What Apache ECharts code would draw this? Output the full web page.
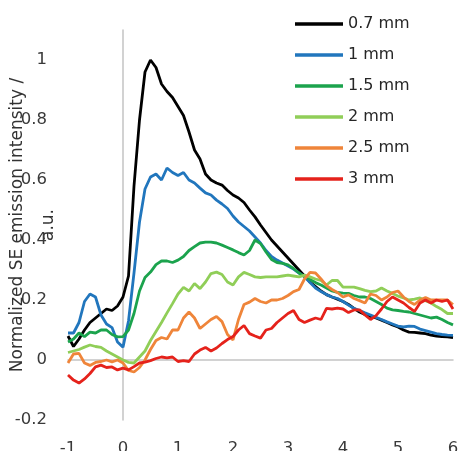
<!DOCTYPE html>
<html>
<head>
<meta charset="utf-8">
<script src="https://cdn.jsdelivr.net/npm/echarts@6/dist/echarts.min.js"></script>
<style>html,body{margin:0;padding:0;background:#fff}#c{width:460px;height:451px}</style>
</head>
<body>
<div id="c"></div>
<script>
const energies = [-1.0,-0.9,-0.8,-0.7,-0.6,-0.5,-0.4,-0.3,-0.2,-0.1,
  0.0,0.1,0.2,0.3,0.4,0.5,0.6,0.7,0.8,0.9,
  1.0,1.1,1.2,1.3,1.4,1.5,1.6,1.7,1.8,1.9,
  2.0,2.1,2.2,2.3,2.4,2.5,2.6,2.7,2.8,2.9,
  3.0,3.1,3.2,3.3,3.4,3.5,3.6,3.7,3.8,3.9,
  4.0,4.1,4.2,4.3,4.4,4.5,4.6,4.7,4.8,4.9,
  5.0,5.1,5.2,5.3,5.4,5.5,5.6,5.7,5.8,5.9,6.0];

const seriesNames = ['0.7 mm','1 mm','1.5 mm','2 mm','2.5 mm','3 mm'];
const seriesColors = ['#000000','#2176bd','#1ba34d','#90ce58','#ef853a','#e5221b'];

const s07 = [0.08,0.045,0.07,0.1,0.125,0.14,0.155,0.17,0.165,0.18,
  0.21,0.28,0.58,0.8,0.96,1.0,0.975,0.92,0.895,0.875,
  0.845,0.815,0.76,0.7,0.67,0.62,0.6,0.59,0.583,0.565,
  0.55,0.54,0.525,0.5,0.477,0.45,0.425,0.4,0.38,0.36,
  0.34,0.32,0.3,0.28,0.26,0.245,0.23,0.218,0.21,0.203,
  0.195,0.185,0.172,0.16,0.152,0.145,0.14,0.133,0.125,0.117,
  0.11,0.1,0.093,0.092,0.09,0.088,0.083,0.08,0.078,0.077,0.075];

const s1 = [0.09,0.09,0.125,0.195,0.22,0.21,0.15,0.12,0.108,0.06,
  0.043,0.13,0.29,0.46,0.57,0.61,0.62,0.6,0.64,0.625,
  0.615,0.625,0.6,0.59,0.573,0.557,0.55,0.533,0.52,0.505,
  0.48,0.46,0.445,0.43,0.41,0.39,0.365,0.345,0.333,0.323,
  0.313,0.303,0.29,0.278,0.258,0.24,0.228,0.218,0.21,0.205,
  0.195,0.183,0.172,0.165,0.157,0.15,0.142,0.135,0.127,0.12,
  0.113,0.11,0.113,0.112,0.103,0.098,0.093,0.088,0.085,0.083,0.082];

const s15 = [0.06,0.07,0.09,0.078,0.093,0.09,0.1,0.1,0.085,0.077,
  0.078,0.1,0.155,0.23,0.275,0.293,0.318,0.33,0.33,0.325,
  0.333,0.345,0.365,0.378,0.39,0.393,0.393,0.39,0.383,0.375,
  0.367,0.358,0.35,0.365,0.4,0.388,0.36,0.335,0.325,0.322,
  0.317,0.305,0.29,0.278,0.268,0.258,0.25,0.24,0.23,0.225,
  0.223,0.222,0.215,0.21,0.21,0.205,0.195,0.185,0.173,0.167,
  0.165,0.162,0.16,0.155,0.15,0.145,0.14,0.143,0.135,0.125,0.117];

const s2 = [0.025,0.03,0.035,0.043,0.05,0.045,0.042,0.03,0.02,0.01,
  0.0,-0.008,-0.01,0.01,0.03,0.065,0.095,0.125,0.157,0.188,
  0.22,0.242,0.23,0.255,0.238,0.26,0.288,0.293,0.285,0.26,
  0.25,0.277,0.292,0.285,0.277,0.275,0.277,0.277,0.277,0.28,
  0.283,0.28,0.277,0.283,0.277,0.27,0.265,0.25,0.265,0.265,
  0.243,0.243,0.243,0.238,0.232,0.228,0.23,0.24,0.23,0.222,
  0.213,0.207,0.2,0.203,0.207,0.198,0.19,0.178,0.168,0.155,0.155];

const s25 = [-0.01,0.02,0.022,-0.01,-0.018,-0.008,-0.005,0.0,-0.006,0.0,
  -0.01,-0.035,-0.04,-0.025,0.0,0.035,0.065,0.075,0.07,0.1,
  0.1,0.14,0.16,0.14,0.105,0.12,0.135,0.145,0.128,0.085,
  0.067,0.135,0.185,0.193,0.205,0.195,0.19,0.2,0.2,0.205,
  0.215,0.228,0.235,0.27,0.292,0.29,0.27,0.248,0.235,0.225,
  0.21,0.217,0.205,0.198,0.19,0.22,0.215,0.2,0.21,0.225,
  0.23,0.21,0.195,0.185,0.2,0.208,0.2,0.2,0.2,0.2,0.185];

const s3 = [-0.05,-0.067,-0.077,-0.063,-0.045,-0.023,-0.017,-0.025,-0.023,-0.033,
  -0.027,-0.033,-0.022,-0.01,-0.007,-0.002,0.005,0.01,0.007,0.01,
  -0.005,-0.002,-0.005,0.02,0.033,0.042,0.03,0.04,0.055,0.068,
  0.078,0.1,0.115,0.088,0.08,0.073,0.1,0.105,0.125,0.14,
  0.155,0.165,0.135,0.125,0.133,0.14,0.135,0.172,0.17,0.173,
  0.17,0.158,0.167,0.167,0.15,0.135,0.148,0.17,0.195,0.21,
  0.2,0.19,0.175,0.162,0.19,0.2,0.19,0.2,0.195,0.2,0.17];

const seriesValues = [s07, s1, s15, s2, s25, s3];

const FONT = 'DejaVu Sans';
const chart = echarts.init(document.getElementById('c'), null, {renderer: 'canvas'});

chart.setOption({
  animation: false,
  backgroundColor: '#ffffff',
  textStyle: {fontFamily: FONT},
  grid: {left: 68, right: 7, top: 30, bottom: 31, containLabel: false, outerBoundsMode: 'none'},
  legend: {
    orient: 'vertical',
    left: 290,
    top: 9,
    itemWidth: 48,
    itemHeight: 3.5,
    itemGap: 11,
    icon: 'rect',
    textStyle: {fontFamily: FONT, fontSize: 16, color: '#262626', lineHeight: 20},
    data: seriesNames
  },
  xAxis: {
    type: 'value',
    min: -1, max: 6, interval: 1,
    axisLine: {show: true, onZero: true, lineStyle: {color: '#c3c3c3', width: 1.5}},
    axisTick: {show: false},
    splitLine: {show: false},
    axisLabel: {fontFamily: FONT, fontSize: 16.5, color: '#3a3a3a', margin: 20},
    name: 'SE energy / eV',
    nameLocation: 'middle',
    nameGap: 39,
    nameMoveOverlap: false,
    nameTextStyle: {fontFamily: FONT, fontSize: 18.5, color: '#333333'}
  },
  yAxis: {
    type: 'value',
    min: -0.2, max: 1.1, interval: 0.2,
    axisLine: {show: true, onZero: true, lineStyle: {color: '#c3c3c3', width: 1.5}},
    axisTick: {show: false},
    splitLine: {show: false},
    axisLabel: {
      fontFamily: FONT, fontSize: 16.5, color: '#3a3a3a', margin: 21,
      showMaxLabel: false,
      formatter: v => String(Math.round(v * 10) / 10)
    },
    name: 'Normalized SE emission intensity /\na.u.',
    nameLocation: 'middle',
    nameGap: 4,
    nameMoveOverlap: false,
    nameTextStyle: {fontFamily: FONT, fontSize: 17, color: '#333333', lineHeight: 31, align: 'center'}
  },
  series: seriesNames.map((n, k) => ({
    name: n,
    type: 'line',
    showSymbol: false,
    symbol: 'none',
    smooth: false,
    color: seriesColors[k],
    lineStyle: {width: 2.8, color: seriesColors[k]},
    data: energies.map((e, i) => [e, seriesValues[k][i]])
  }))
});
</script>
</body>
</html>
